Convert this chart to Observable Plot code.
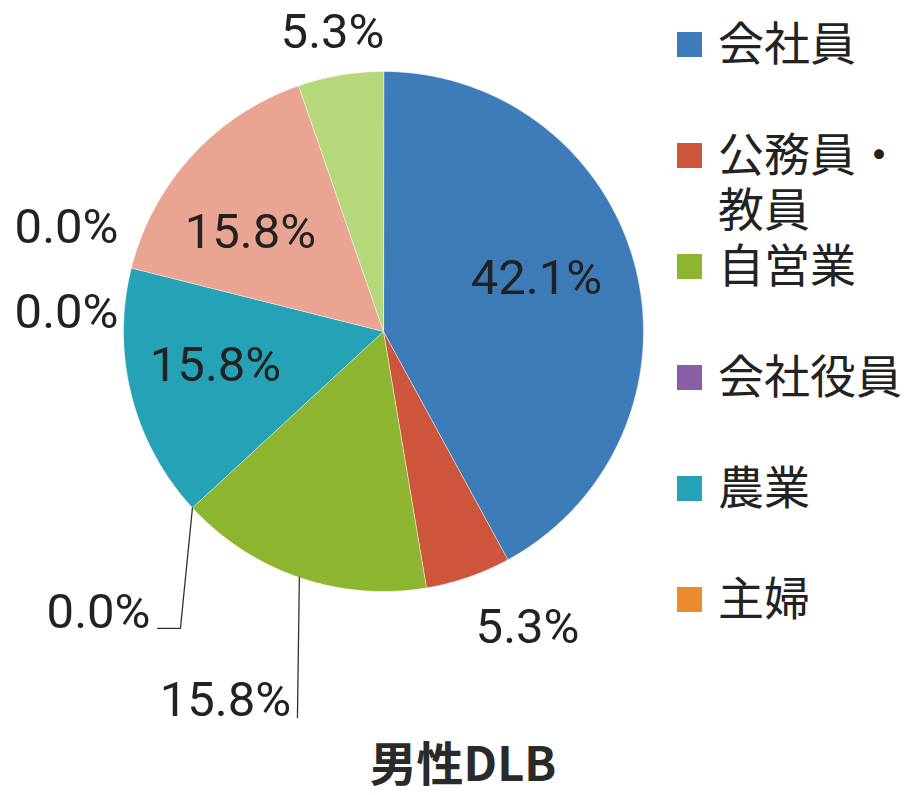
<!DOCTYPE html>
<html>
<head>
<meta charset="utf-8">
<script src="https://cdn.jsdelivr.net/npm/d3@7"></script>
<script src="https://cdn.jsdelivr.net/npm/@observablehq/plot@0.6"></script>
<style>
  html, body { margin: 0; padding: 0; background: #fff; }
  #wrap { position: relative; width: 909px; height: 795px; overflow: hidden; }
  #chart svg { display: block; }
  #legend { position: absolute; left: 0; top: 0; width: 909px; height: 727px; pointer-events: none; }
  .item { position: absolute; left: 677px; width: 232px; }
  .sw { position: absolute; left: 0; width: 25px; height: 25px; }
  .lt { position: absolute; left: 41px; width: 192px; font-family: "Noto Sans CJK JP", sans-serif; font-size: 46px; line-height: 55px; color: #222; }
  #title { width: 909px; box-sizing: border-box; padding-left: 17px; text-align: center; font-family: "Noto Sans CJK JP", sans-serif; font-weight: 700; font-size: 47px; line-height: 68px; height: 68px; color: #2a2a2a; }
</style>
</head>
<body>
<div id="wrap">
  <div id="chart"></div>
  <div id="legend"></div>
  <div id="title"></div>
</div>
<script>
// ---- data ----
const categories = ["会社員", "公務員・教員", "自営業", "会社役員", "農業", "主婦", "未掲載1", "未掲載2", "未掲載3"];
const values = [42.1, 5.3, 15.8, 0.0, 15.8, 0.0, 0.0, 15.8, 5.3];
const legendShown = ["会社員", "公務員・教員", "自営業", "会社役員", "農業", "主婦"];
const titleText = "男性DLB";

// ---- styles / placement ----
const colors = ["#3E7CB9", "#CD553B", "#8DB52F", "#8A5EA6", "#25A2B5", "#EC8A2E", "#86B4DC", "#E9A592", "#B5D97A"];
// label positions in pie-radius units relative to the centre (x right, y up)
const labelXY = [[0.588, 0.204], [0.554, -1.138], [-0.608, -1.419], [-1.096, -1.081], [-0.646, -0.131], [-1.219, 0.073], [-1.219, 0.400], [-0.512, 0.381], [-0.196, 1.150]];
// leader-line bend points (radius units), start is the slice edge at its mid angle
const leaderBends = { "自営業": [[-0.331, -1.485]], "会社役員": [[-0.781, -1.142], [-0.869, -1.142]] };

const W = 909, H = 727, CX = 383, CY = 331, R = 260;

// ---- geometry ----
const total = d3.sum(values);
let acc = 0;
const slices = categories.map((c, i) => {
  const a0 = acc / total * 2 * Math.PI; acc += values[i];
  const a1 = acc / total * 2 * Math.PI;
  return { c, v: values[i], a0, a1, mid: (a0 + a1) / 2, i };
});
const piePts = [];
for (const s of slices) {
  if (s.v <= 0) continue;
  piePts.push({ c: s.c, x: 0, y: 0 });
  const n = Math.max(2, Math.ceil((s.a1 - s.a0) / (Math.PI / 180)));
  for (let k = 0; k <= n; k++) {
    const a = s.a0 + (s.a1 - s.a0) * k / n;
    piePts.push({ c: s.c, x: Math.sin(a), y: Math.cos(a) });
  }
}
const labels = slices.map(s => ({ c: s.c, x: labelXY[s.i][0], y: labelXY[s.i][1], t: s.v.toFixed(1) + "%" }));
const leaderPts = [];
for (const s of slices) {
  const b = leaderBends[s.c]; if (!b) continue;
  leaderPts.push({ c: s.c, x: Math.sin(s.mid), y: Math.cos(s.mid) });
  for (const p of b) leaderPts.push({ c: s.c, x: p[0], y: p[1] });
}

const plot = Plot.plot({
  width: W, height: H,
  margin: 0,
  x: { domain: [-CX / R, (W - CX) / R], axis: null },
  y: { domain: [-(H - CY) / R, CY / R], axis: null },
  color: { domain: categories, range: colors },
  style: { background: "transparent" },
  marks: [
    Plot.line(piePts, { x: "x", y: "y", z: "c", fill: "c", stroke: "#ffffff", strokeWidth: 0.8, strokeOpacity: 0.6, curve: "linear-closed" }),
    Plot.line(leaderPts, { x: "x", y: "y", z: "c", stroke: "#333", strokeWidth: 1.3, curve: "linear" }),
    Plot.text(labels, { x: "x", y: "y", text: "t", fontSize: 49, fontFamily: "Roboto, sans-serif", fill: "#222", textAnchor: "middle" })
  ]
});
document.getElementById("chart").appendChild(plot);

// ---- legend (HTML) ----
const legend = document.getElementById("legend");
legendShown.forEach((name, k) => {
  const cy = 40 + k * 111;
  const item = document.createElement("div");
  item.className = "item";
  item.style.top = (cy - 27.5) + "px";
  const sw = document.createElement("div");
  sw.className = "sw";
  sw.style.top = (27.5 - 12.5 + 4) + "px";
  sw.style.background = colors[categories.indexOf(name)];
  const lt = document.createElement("div");
  lt.className = "lt";
  lt.style.top = "0px";
  lt.textContent = name;
  item.appendChild(sw); item.appendChild(lt);
  legend.appendChild(item);
});
document.getElementById("title").textContent = titleText;
</script>
</body>
</html>
